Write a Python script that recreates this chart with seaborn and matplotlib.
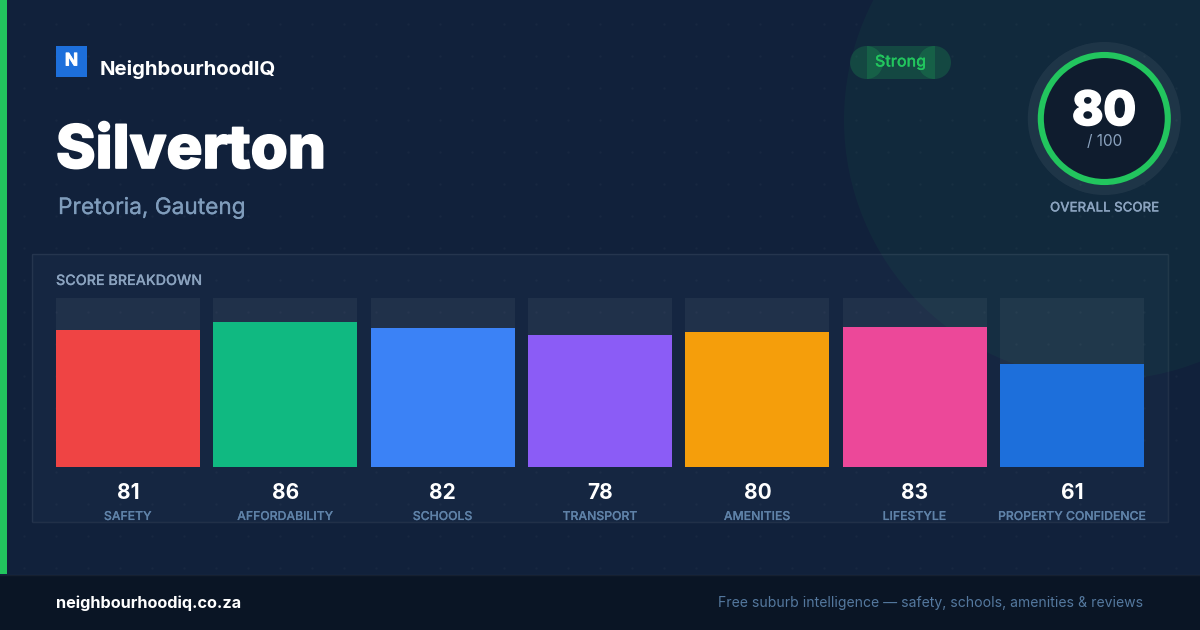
import numpy as np
import pandas as pd
import seaborn as sns
import matplotlib.pyplot as plt
from matplotlib.patches import Circle, Rectangle
import matplotlib.patheffects as pe

categories = ["SAFETY", "AFFORDABILITY", "SCHOOLS", "TRANSPORT", "AMENITIES", "LIFESTYLE", "PROPERTY CONFIDENCE"]
scores = [81, 86, 82, 78, 80, 83, 61]
track = [100, 100, 100, 100, 100, 100, 100]
bar_colors = ["#ef4444", "#10b981", "#3b82f6", "#8b5cf6", "#f59e0b", "#ec4899", "#1d6fdb"]

GREEN = "#22c55e"
BG = "#11213b"


def thicken(color, width=0.1):
    # no medium weight to hand, a thin outline does the same job
    return [pe.withStroke(linewidth=width, foreground=color)]


sns.set_theme(style="white")
plt.rcParams['font.family'] = ['Inter', 'DejaVu Sans']

df = pd.DataFrame({"category": categories, "score": scores, "track": track})

fig = plt.figure(figsize=(12, 6.3), dpi=100, facecolor=BG)

# whole card, in pixels
bg = fig.add_axes([0, 0, 1, 1], zorder=0)
bg.set_xlim(0, 1200)
bg.set_ylim(630, 0)
bg.axis('off')

bg.add_patch(Circle((1104, 120), 260, color=GREEN, alpha=0.05, lw=0))
dot_x, dot_y = np.meshgrid(np.arange(24, 1200, 32), np.arange(24, 574, 32))
bg.scatter(dot_x.ravel(), dot_y.ravel(), s=3, color="white", alpha=0.03, lw=0)

# score panel
bg.add_patch(Rectangle((32, 254), 1136, 268, fc="#8fb4e0", alpha=0.04, lw=0))
bg.add_patch(Rectangle((32, 254), 1136, 268, fc="none", ec="white", alpha=0.07, lw=1))

# footer and accent
bg.add_patch(Rectangle((0, 575), 1200, 55, fc="#0a1525", lw=0))
bg.plot([0, 1200], [574.5, 574.5], color="white", alpha=0.05, lw=1)
bg.add_patch(Rectangle((0, 0), 7, 574, fc=GREEN, lw=0))

# logo + header
bg.add_patch(Rectangle((56, 46), 31, 31, fc="#1d6fdb", lw=0))
bg.text(71.5, 61, "N", color="white", fontsize=12.5, fontweight='bold', ha='center', va='center',
        path_effects=thicken("white", 0.6))
bg.text(100, 75, "NeighbourhoodIQ", color="white", fontsize=14.65, fontweight='bold', ha='left', va='baseline')
bg.text(56, 168, "Silverton", color="white", fontsize=43.2, fontweight='heavy', ha='left', va='baseline',
        path_effects=thicken("white", 1.2))
bg.text(58, 214, "Pretoria, Gauteng", color="#7f9cbb", fontsize=16.3, ha='left', va='baseline',
        path_effects=thicken("#7f9cbb", 0.2))

# badge, the caps overlap the middle part
bg.add_patch(Rectangle((866.5, 46), 68, 33, fc=GREEN, alpha=0.2, lw=0))
bg.add_patch(Circle((866.5, 62.5), 16.5, fc=GREEN, alpha=0.2, lw=0))
bg.add_patch(Circle((934.5, 62.5), 16.5, fc=GREEN, alpha=0.2, lw=0))
bg.text(900.5, 62, "Strong", color=GREEN, fontsize=11.5, fontweight='medium', ha='center', va='center',
        path_effects=thicken(GREEN))

# score ring
bg.add_patch(Circle((1104.3, 118.5), 76.5, fc="white", alpha=0.06, lw=0))
bg.add_patch(Circle((1104.3, 118.5), 63.5, fc="#0f1c2e", ec=GREEN, lw=4.4))
bg.text(1104, 125, "80", color="white", fontsize=34, fontweight='heavy', ha='center', va='baseline',
        path_effects=thicken("white", 1.2))
bg.text(1104.5, 141.5, "/ 100", color="#8ba3bf", fontsize=11, ha='center', va='center')
bg.text(1104.5, 208.5, "OVERALL SCORE", color="#8ba3bf", fontsize=9.55, fontweight='medium', ha='center', va='center',
        path_effects=thicken("#8ba3bf"))

bg.text(56, 281, "SCORE BREAKDOWN", color="#8ba3bf", fontsize=10.3, fontweight='medium', ha='left', va='center',
        path_effects=thicken("#8ba3bf"))

# bars
ax = fig.add_axes([56 / 1200, 1 - 467 / 630, 1088 / 1200, 169 / 630], zorder=1)
ax.patch.set_alpha(0)
sns.barplot(data=df, x="category", y="track", color="white", alpha=0.05, width=0.915, saturation=1,
            linewidth=0, ax=ax)
sns.barplot(data=df, x="category", y="score", hue="category", palette=bar_colors, dodge=False,
            width=0.915, saturation=1, linewidth=0, legend=False, ax=ax)
ax.set_xlim(-0.4575, 6.4575)
ax.set_ylim(0, 100)
ax.set_xlabel("")
ax.set_ylabel("")
ax.set_xticks([])
ax.set_yticks([])
sns.despine(ax=ax, left=True, bottom=True)

# value and label under each bar
for i, (cat, val) in enumerate(zip(categories, scores)):
    x = 128 + i * (1088 - 144) / 6
    bg.text(x, 493, str(val), color="white", fontsize=15, fontweight='bold', ha='center', va='center')
    bg.text(x - 0.3, 517, cat, color="#5f82a8", fontsize=8.8, fontweight='medium', ha='center', va='center',
            path_effects=thicken("#5f82a8"))

# footer text
bg.text(56, 603, "neighbourhoodiq.co.za", color="white", fontsize=11.7, fontweight='bold', ha='left', va='center')
bg.text(1143, 603, "Free suburb intelligence — safety, schools, amenities & reviews", color="#54789e",
        fontsize=10.1, ha='right', va='center')

fig.savefig("out.png", dpi=100, facecolor=BG)
